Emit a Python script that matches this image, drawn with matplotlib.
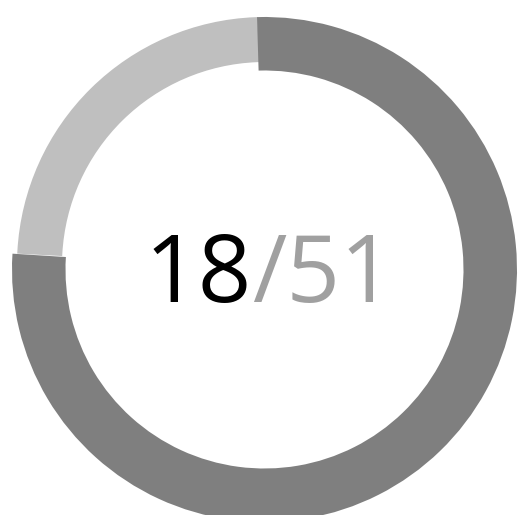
import matplotlib
matplotlib.use("Agg")
import matplotlib.pyplot as plt

# data
segment_values = [39, 12]
segment_colors = ["#7f7f7f", "#bfbfbf"]
current_label = "18"
total_label = "/51"

W, H = 521, 515
fig = plt.figure(figsize=(W / 100, H / 100), dpi=100)
ax = fig.add_axes([0, 0, 1, 1])

# light (background) ring, with a thin same-colour stroke to close the seams
light_wedges, _ = ax.pie(segment_values, colors=["none", segment_colors[1]],
                         startangle=92.2, counterclock=False,
                         center=(265, H - 265), radius=246,
                         wedgeprops=dict(width=41, linewidth=0))
light_wedges[1].set_edgecolor(segment_colors[1])
light_wedges[1].set_linewidth(2.9)

# dark (progress) ring
ax.pie(segment_values, colors=[segment_colors[0], "none"], startangle=91.7,
       counterclock=False, center=(264.5, H - 269.5), radius=252.5,
       wedgeprops=dict(width=53.5, linewidth=0))

ax.set_xlim(0, W)
ax.set_ylim(0, H)
ax.set_aspect("equal")
ax.axis("off")

split_x = 252
base_y = H - 302
ax.text(split_x, base_y, current_label, ha="right", va="baseline",
        fontsize=67.5, family="Open Sans", color="black")
ax.text(split_x, base_y, total_label, ha="left", va="baseline",
        fontsize=67.5, family="Open Sans", color="#a0a0a0")

fig.savefig("out.png", dpi=100)
